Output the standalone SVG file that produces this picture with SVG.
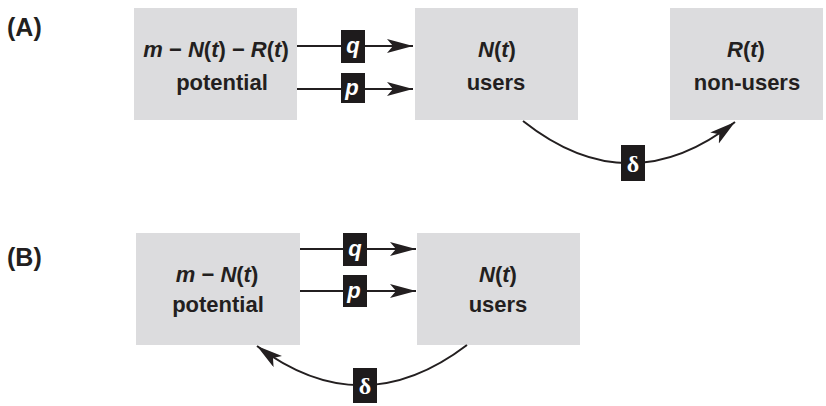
<svg xmlns="http://www.w3.org/2000/svg" width="826" height="406" viewBox="0 0 826 406">
  <style>
    .box { fill: #dcdcde; }
    .txt { font-family: "Liberation Sans", Arial, sans-serif; font-weight: bold; font-size: 22px; fill: #231f20; text-anchor: middle; }
    .math { font-style: italic; }
    .up { font-style: normal; }
    .panel { font-family: "Liberation Sans", Arial, sans-serif; font-weight: bold; font-size: 25px; fill: #231f20; }
    .wire { fill: none; stroke: #231f20; stroke-width: 2; }
    .tag { fill: #1e1b1c; }
    .tagtxt { font-family: "Liberation Sans", Arial, sans-serif; font-weight: bold; font-style: italic; font-size: 22px; fill: #ffffff; text-anchor: middle; }
    .delta { font-family: "Liberation Serif", "Times New Roman", serif; font-weight: bold; font-size: 24px; fill: #ffffff; text-anchor: middle; }
  </style>
  <defs>
    <marker id="head" markerUnits="userSpaceOnUse" markerWidth="28" markerHeight="16" refX="26" refY="7" orient="auto">
      <path d="M0,0 L26,7 L0,14 L6,7 z" fill="#231f20"/>
    </marker>
  </defs>

  <rect width="826" height="406" fill="#ffffff"/>

  <!-- panel letters -->
  <text class="panel" x="7" y="36">(A)</text>
  <text class="panel" x="7" y="266">(B)</text>

  <!-- model A nodes -->
  <g id="a-potential">
    <rect class="box" x="134" y="8" width="163" height="112"/>
    <text class="txt" x="216" y="57"><tspan class="math">m</tspan> − <tspan class="math">N</tspan><tspan class="up">(</tspan><tspan class="math">t</tspan><tspan class="up">)</tspan> − <tspan class="math">R</tspan><tspan class="up">(</tspan><tspan class="math">t</tspan><tspan class="up">)</tspan></text>
    <text class="txt" x="222" y="90">potential</text>
  </g>
  <g id="a-users">
    <rect class="box" x="415" y="8" width="163" height="112"/>
    <text class="txt" x="497" y="57"><tspan class="math">N</tspan>(<tspan class="math">t</tspan>)</text>
    <text class="txt" x="496" y="90">users</text>
  </g>
  <g id="a-nonusers">
    <rect class="box" x="670" y="8" width="153" height="112"/>
    <text class="txt" x="746" y="57"><tspan class="math">R</tspan>(<tspan class="math">t</tspan>)</text>
    <text class="txt" x="747" y="90">non-users</text>
  </g>

  <!-- model B nodes -->
  <g id="b-potential">
    <rect class="box" x="136" y="233" width="164" height="112"/>
    <text class="txt" x="217" y="282"><tspan class="math">m</tspan> − <tspan class="math">N</tspan>(<tspan class="math">t</tspan>)</text>
    <text class="txt" x="218" y="312">potential</text>
  </g>
  <g id="b-users">
    <rect class="box" x="417" y="233" width="163" height="112"/>
    <text class="txt" x="498" y="282"><tspan class="math">N</tspan>(<tspan class="math">t</tspan>)</text>
    <text class="txt" x="498" y="312">users</text>
  </g>

  <!-- flows between compartments -->
  <g id="connectors">
    <!-- A: imitation q and innovation p -->
    <path class="wire" d="M297,46 H413" marker-end="url(#head)"/>
    <rect class="tag" x="341" y="30" width="24" height="33"/>
    <text class="tagtxt" x="353" y="53">q</text>
    <path class="wire" d="M297,89 H413" marker-end="url(#head)"/>
    <rect class="tag" x="341" y="73" width="24" height="30"/>
    <text class="tagtxt" x="352" y="95">p</text>
    <!-- A: discontinuation -->
    <path class="wire" d="M523,121 Q629,205 735,122" marker-end="url(#head)"/>
    <rect class="tag" x="621" y="145" width="24" height="36"/>
    <text class="delta" x="633" y="172">δ</text>

    <!-- B: imitation q and innovation p -->
    <path class="wire" d="M300,249 H416" marker-end="url(#head)"/>
    <rect class="tag" x="343" y="233" width="24" height="33"/>
    <text class="tagtxt" x="355" y="256">q</text>
    <path class="wire" d="M300,291 H416" marker-end="url(#head)"/>
    <rect class="tag" x="343" y="275" width="24" height="32"/>
    <text class="tagtxt" x="354" y="298">p</text>
    <!-- B: return to the potential pool -->
    <path class="wire" d="M467,345 Q362,425 257,346" marker-end="url(#head)"/>
    <rect class="tag" x="353" y="368" width="24" height="35"/>
    <text class="delta" x="365" y="394">δ</text>
  </g>
</svg>
